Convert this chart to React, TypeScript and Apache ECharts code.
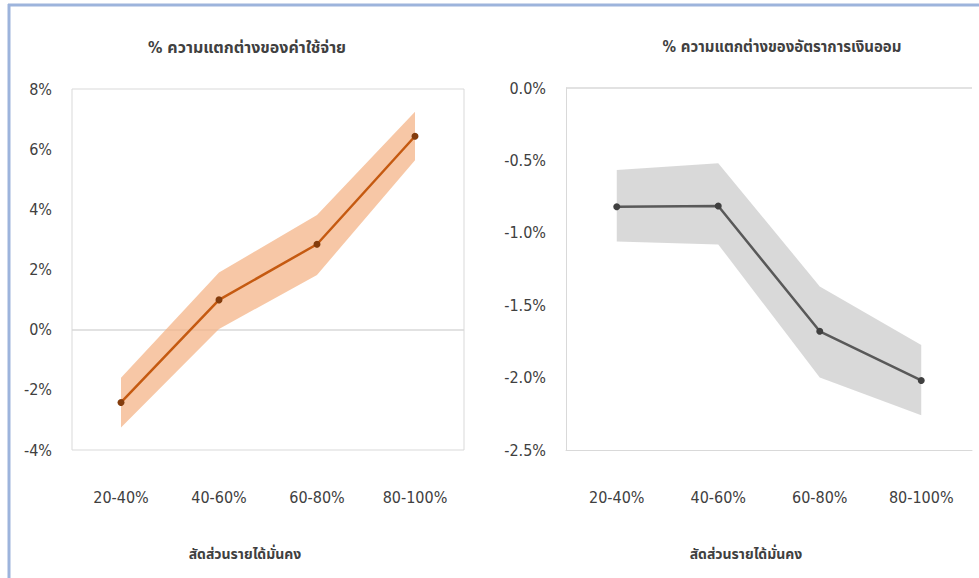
import React, { useEffect, useRef } from "react";
import * as echarts from "echarts";

// Income-stability groups on the horizontal axis
const categories = ["20-40%", "40-60%", "60-80%", "80-100%"];

// Left panel: % difference in spending (point estimate and band)
const spendMid = [-2.42, 0.99, 2.84, 6.43];
const spendLow = [-3.25, 0.02, 1.82, 5.63];
const spendHigh = [-1.6, 1.9, 3.81, 7.24];

// Right panel: % difference in savings rate (point estimate and band)
const saveMid = [-0.82, -0.815, -1.68, -2.02];
const saveLow = [-1.06, -1.08, -2.0, -2.26];
const saveHigh = [-0.566, -0.52, -1.37, -1.775];

const leftTicks = { min: -4, max: 8, step: 2 };
const rightTicks = { min: -2.5, max: 0, step: 0.5 };

const titleLeft = "% ความแตกต่างของค่าใช้จ่าย";
const titleRight = "% ความแตกต่างของอัตราการเงินออม";
const xName = "สัดส่วนรายได้มั่นคง";

const FONT =
  "'Liberation Sans Narrow', 'DejaVu Sans Condensed', 'Noto Sans Thai', 'Noto Sans', sans-serif";
const TEXT = "#404040";

// Draws the whole confidence band as a single polygon
function bandRenderer(lo: number[], hi: number[], fill: string) {
  return (params: any, api: any) => {
    if (params.dataIndex !== 0) return null;
    const pts: number[][] = [];
    for (let i = 0; i < hi.length; i++) pts.push(api.coord([i, hi[i]]));
    for (let i = lo.length - 1; i >= 0; i--) pts.push(api.coord([i, lo[i]]));
    return { type: "polygon", shape: { points: pts }, style: { fill } };
  };
}

export default function App() {
  const ref = useRef<HTMLDivElement>(null);

  useEffect(() => {
    if (!ref.current) return;
    const chart = echarts.init(ref.current, null, { renderer: "svg" });

    const axisLabel = { color: TEXT, fontFamily: FONT, fontSize: 16 };

    const xAxisBase = (gridIndex: number, lineShow: boolean) => ({
      type: "category" as const,
      gridIndex,
      data: categories,
      boundaryGap: true,
      axisTick: { show: false },
      axisLine: { show: lineShow, onZero: false, lineStyle: { color: "#D9D9D9" } },
      axisLabel: { ...axisLabel, margin: 39 },
      name: xName,
      nameLocation: "middle" as const,
      nameGap: 97,
      nameTextStyle: {
        color: TEXT,
        fontFamily: FONT,
        fontSize: 14,
        fontWeight: "bold" as const,
        padding: [0, 46, 0, 0],
      },
    });

    chart.setOption({
      animation: false,
      backgroundColor: "#ffffff",
      textStyle: { fontFamily: FONT },
      grid: [
        {
          left: 72,
          right: 979 - 464,
          top: 89,
          bottom: 578 - 450,
          show: true,
          borderColor: "#D9D9D9",
          borderWidth: 1,
        },
        { left: 566, right: 979 - 972, top: 88, bottom: 578 - 450 },
      ],
      xAxis: [xAxisBase(0, false), xAxisBase(1, true)],
      yAxis: [
        {
          type: "value",
          gridIndex: 0,
          min: leftTicks.min,
          max: leftTicks.max,
          interval: leftTicks.step,
          splitLine: { show: false },
          axisLine: { show: false },
          axisTick: { show: false },
          axisLabel: {
            ...axisLabel,
            margin: 20,
            formatter: (v: number) => `${v.toFixed(0)}%`,
          },
        },
        {
          type: "value",
          gridIndex: 1,
          min: rightTicks.min,
          max: rightTicks.max,
          interval: rightTicks.step,
          splitLine: { show: false },
          axisLine: { show: true, lineStyle: { color: "#D9D9D9" } },
          axisTick: { show: false },
          axisLabel: {
            ...axisLabel,
            margin: 20,
            formatter: (v: number) => `${v.toFixed(1)}%`,
          },
        },
      ],
      series: [
        {
          type: "custom",
          xAxisIndex: 0,
          yAxisIndex: 0,
          z: 1,
          silent: true,
          data: categories.map((_, i) => [i, spendLow[i], spendHigh[i]]),
          encode: { x: 0, y: [1, 2] },
          renderItem: bandRenderer(spendLow, spendHigh, "rgba(244,177,131,0.72)"),
        },
        {
          type: "line",
          xAxisIndex: 0,
          yAxisIndex: 0,
          z: 3,
          data: spendMid,
          symbol: "circle",
          symbolSize: 7,
          lineStyle: { color: "#C55A11", width: 2.5 },
          itemStyle: { color: "#843C0C" },
          markLine: {
            silent: true,
            symbol: "none",
            label: { show: false },
            lineStyle: { color: "#D9D9D9", type: "solid", width: 1.5 },
            data: [{ yAxis: 0 }],
            z: 0,
          },
        },
        {
          type: "custom",
          xAxisIndex: 1,
          yAxisIndex: 1,
          z: 1,
          silent: true,
          data: categories.map((_, i) => [i, saveLow[i], saveHigh[i]]),
          encode: { x: 0, y: [1, 2] },
          renderItem: bandRenderer(saveLow, saveHigh, "rgba(191,191,191,0.6)"),
        },
        {
          type: "line",
          xAxisIndex: 1,
          yAxisIndex: 1,
          z: 3,
          data: saveMid,
          symbol: "circle",
          symbolSize: 7,
          lineStyle: { color: "#595959", width: 2.5 },
          itemStyle: { color: "#404040" },
          markLine: {
            silent: true,
            symbol: "none",
            label: { show: false },
            lineStyle: { color: "#D9D9D9", type: "solid", width: 1.5 },
            data: [{ yAxis: 0 }],
          },
        },
      ],
      graphic: [
        // outer chart frame
        {
          type: "line",
          shape: { x1: 8, y1: 5, x2: 979, y2: 5 },
          style: { stroke: "#9DB4DC", lineWidth: 3 },
        },
        {
          type: "line",
          shape: { x1: 9, y1: 4, x2: 9, y2: 578 },
          style: { stroke: "#9DB4DC", lineWidth: 3 },
        },
        {
          type: "text",
          x: 247,
          y: 47,
          style: {
            text: titleLeft,
            fill: TEXT,
            font: `bold 16px ${FONT}`,
            align: "center",
            verticalAlign: "middle",
          },
        },
        {
          type: "text",
          x: 782,
          y: 47,
          style: {
            text: titleRight,
            fill: TEXT,
            font: `bold 15px ${FONT}`,
            align: "center",
            verticalAlign: "middle",
          },
        },
      ],
    });

    return () => chart.dispose();
  }, []);

  return (
    <div
      ref={ref}
      style={{ position: "fixed", left: 0, top: 0, width: 979, height: 578 }}
    />
  );
}
